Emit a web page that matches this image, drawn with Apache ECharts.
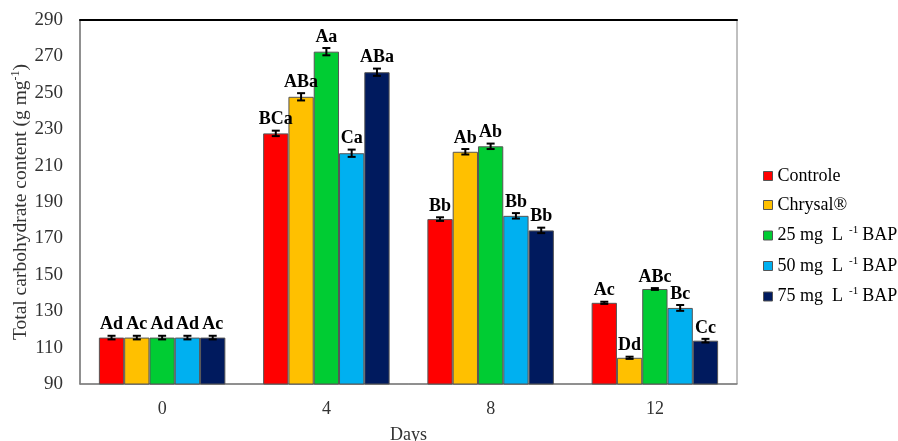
<!DOCTYPE html>
<html>
<head>
<meta charset="utf-8">
<script src="https://cdn.jsdelivr.net/npm/echarts@6/dist/echarts.min.js"></script>
<style>html,body{margin:0;padding:0;background:#fff}#c{width:898px;height:441px}</style>
</head>
<body>
<div id="c"></div>
<script>
const categories = ['0', '4', '8', '12'];
const seriesNames = ['Controle', 'Chrysal®', '25 mg L-1 BAP', '50 mg L-1 BAP', '75 mg L-1 BAP'];
const colors = ['#FF0000', '#FFC000', '#00CC33', '#00B0F0', '#001A5E'];
const controle = [115.5, 227.7, 180.6, 134.6];
const chrysal = [115.5, 247.8, 217.6, 104.4];
const bap25 = [115.5, 272.6, 220.6, 142.2];
const bap50 = [115.5, 216.8, 182.4, 131.8];
const bap75 = [115.5, 261.3, 174.4, 113.8];
const errControle = [1.0, 1.5, 1.0, 0.6];
const errChrysal = [1.0, 2.0, 1.5, 0.6];
const errBap25 = [1.0, 2.0, 1.5, 0.5];
const errBap50 = [1.0, 2.0, 1.5, 1.6];
const errBap75 = [1.0, 2.0, 1.5, 1.0];
const letControle = ['Ad', 'BCa', 'Bb', 'Ac'];
const letChrysal = ['Ac', 'ABa', 'Ab', 'Dd'];
const letBap25 = ['Ad', 'Aa', 'Ab', 'ABc'];
const letBap50 = ['Ad', 'Ca', 'Bb', 'Bc'];
const letBap75 = ['Ac', 'ABa', 'Bb', 'Cc'];
const yTicks = [90, 110, 130, 150, 170, 190, 210, 230, 250, 270, 290];

const values = [controle, chrysal, bap25, bap50, bap75];
const errors = [errControle, errChrysal, errBap25, errBap50, errBap75];
const letters = [letControle, letChrysal, letBap25, letBap50, letBap75];
const catGap = 0.23;
const font = 'Liberation Serif';

const series = [];
values.forEach((vals, i) => {
  series.push({
    name: seriesNames[i], type: 'bar', data: vals,
    barGap: '0%', barCategoryGap: (catGap * 100) + '%',
    itemStyle: { color: colors[i], borderColor: '#555', borderWidth: 1 },
    emphasis: { disabled: true }
  });
});
values.forEach((vals, i) => {
  series.push({
    type: 'custom', name: 'err' + i, silent: true, z: 10,
    data: vals.map((v, k) => [k, v, errors[i][k], letters[i][k]]),
    encode: { x: 0, y: 1 },
    renderItem: function (params, api) {
      const k = api.value(0), v = api.value(1), e = api.value(2);
      const band = api.size([1, 0])[0];
      const bw = band * (1 - catGap) / 5;
      const c = api.coord([k, v]);
      const x = c[0] + (i - 2) * bw;
      const yt = api.coord([k, v + e])[1];
      const yb = api.coord([k, v - e])[1];
      const cap = 4;
      const st = { stroke: '#000', lineWidth: 2 };
      return {
        type: 'group', children: [
          { type: 'line', shape: { x1: x, y1: yt, x2: x, y2: yb }, style: st },
          { type: 'line', shape: { x1: x - cap, y1: yt, x2: x + cap, y2: yt }, style: st },
          { type: 'line', shape: { x1: x - cap, y1: yb, x2: x + cap, y2: yb }, style: st },
          { type: 'text', x: x, y: yt - 2, style: { text: letters[i][k], fill: '#000', font: 'bold 18px "' + font + '"', align: 'center', verticalAlign: 'bottom' } }
        ]
      };
    }
  });
});

const chart = echarts.init(document.getElementById('c'));
chart.setOption({
  animation: false,
  color: colors,
  grid: { left: 80, right: 161, top: 20, bottom: 57, show: true, borderColor: '#808080', borderWidth: 1, outerBoundsMode: 'none', containLabel: false },
  legend: {
    data: seriesNames, orient: 'vertical', left: 758, top: 162, itemGap: 11,
    itemWidth: 9, itemHeight: 9, icon: 'rect',
    itemStyle: { borderColor: '#555', borderWidth: 1 },
    formatter: function (name) {
      const m = name.match(/^(.*) L-1 (.*)$/);
      if (m) return '{t|' + m[1] + '  L}{s|-1}{t|BAP}';
      return '{t|' + name + '}';
    },
    textStyle: {
      fontFamily: font, fontSize: 18, color: '#000',
      rich: {
        t: { fontFamily: font, fontSize: 18, color: '#000' },
        s: { fontFamily: font, fontSize: 11, color: '#000', verticalAlign: 'top', padding: [0, 4, 10, 6] }
      }
    }
  },
  xAxis: [{
    type: 'category', data: categories,
    axisLine: { lineStyle: { color: '#808080', width: 1.5 } },
    axisTick: { show: false },
    axisLabel: { fontFamily: font, fontSize: 18, color: '#333', margin: 16 },
    name: 'Days', nameLocation: 'middle', nameGap: 42, nameMoveOverlap: false,
    nameTextStyle: { fontFamily: font, fontSize: 18, color: '#333' }
  }, {
    type: 'category', data: categories, position: 'top',
    axisLine: { lineStyle: { color: '#000', width: 2 } },
    axisTick: { show: false }, axisLabel: { show: false }
  }],
  yAxis: {
    type: 'value', min: 90, max: 290, interval: 20,
    axisLine: { show: true, lineStyle: { color: '#808080', width: 1.5 } },
    axisTick: { show: false }, splitLine: { show: false },
    axisLabel: { fontFamily: font, fontSize: 19, color: '#333', margin: 17,
      formatter: v => yTicks.includes(v) ? String(v) : '' },
    name: '{n|Total carbohydrate content (g mg}{s|-1}{n|)}',
    nameLocation: 'middle', nameGap: 48, nameMoveOverlap: false,
    nameTextStyle: {
      rich: {
        n: { fontFamily: font, fontSize: 19.5, color: '#333' },
        s: { fontFamily: font, fontSize: 12, color: '#333', verticalAlign: 'top', padding: [0, 0, 10, 0] }
      }
    }
  },
  series: series
});
</script>
</body>
</html>
